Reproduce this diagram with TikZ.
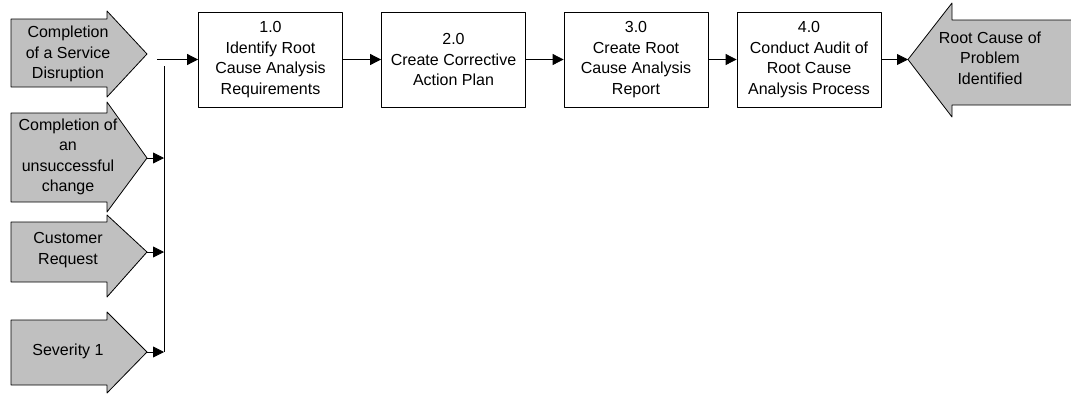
\documentclass[tikz,border=0pt]{standalone}
\usepackage{fontspec}
\setmainfont{Liberation Sans}
\usetikzlibrary{arrows.meta}
\definecolor{shade}{RGB}{192,192,192}
\tikzset{bx/.style={draw,fill=white,minimum width=144pt,minimum height=95pt,inner sep=0pt,align=center}}
\tikzset{tx/.style={align=center,inner sep=0pt}}

\begin{document}
\begin{tikzpicture}[x=1pt,y=-1pt,line join=round,line width=0.8pt,>={Triangle[length=11pt,width=11pt]}]
          \useasboundingbox (0,0) rectangle (1071,394);
          % trigger arrows
          \filldraw[fill=shade](11,19)--(107,19)--(107,11)--(147,54)--(107,97)--(107,87)--(11,87)--cycle;
          \filldraw[fill=shade](11,113)--(107,113)--(107,102)--(147,158)--(107,212)--(107,202)--(11,202)--cycle;
          \filldraw[fill=shade](11,222)--(107,222)--(107,215)--(147,252)--(107,297)--(107,282)--(11,282)--cycle;
          \filldraw[fill=shade](11,320)--(107,320)--(107,312)--(147,352)--(107,393)--(107,385)--(11,385)--cycle;
          % result arrow
          \filldraw[fill=shade](1076,20)--(952,20)--(952,3)--(908,59.5)--(952,117)--(952,105)--(1076,105)--cycle;
          \begin{scope}[font=\fontsize{16}{20.5}\selectfont]
            \node[tx] (I1) at (68,54) {Completion\\of a Service\\Disruption};
            \node[tx] (I2) at (68,157) {Completion of\\an\\unsuccessful\\change};
            \node[tx] (I3) at (68,250) {Customer\\Request};
            \node[tx] (I4) at (68,351) {Severity 1};
            \node[tx] (O) at (990,58) {Root Cause of\\Problem\\Identified};
            \coordinate (J0) at (157,59.5);
            \coordinate (JT) at (164,66);
            \coordinate (JB) at (164,352);
            \coordinate (T2) at (147,158);
            \coordinate (J2) at (164,158);
            \coordinate (T3) at (147,252);
            \coordinate (J3) at (164,252);
            \coordinate (T4) at (147,352);
            \coordinate (J4) at (164,352);
            \coordinate (E) at (908,59.5);
            \node[bx] (R1) at (270.5,59.5) {1.0\\Identify Root\\Cause Analysis\\Requirements}
              edge [<-] (J0);
            \node[bx] (R2) at (453.5,59.5) {2.0\\Create Corrective\\Action Plan}
              edge [<-] (R1);
            \node[bx] (R3) at (636,59.5) {3.0\\Create Root\\Cause Analysis\\Report}
              edge [<-] (R2);
            \node[bx] (R4) at (809,59.5) {4.0\\Conduct Audit of\\Root Cause\\Analysis Process}
              edge [<-] (R3)
              edge [->] (E);
            \draw (JT) -- (JB);
            \draw[->] (T2) -- (J2);
            \draw[->] (T3) -- (J3);
            \draw[->] (T4) -- (J4);
          \end{scope}
        \end{tikzpicture}
\end{document}
